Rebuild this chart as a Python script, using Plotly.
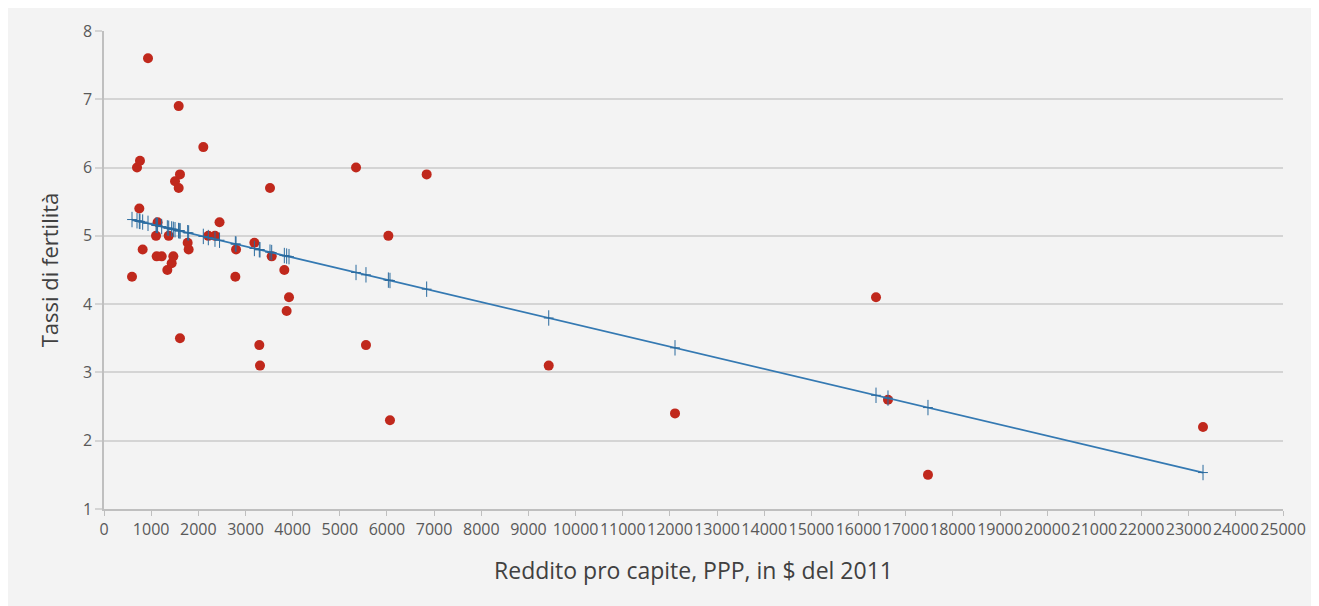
import numpy as np
import plotly.graph_objects as go

# Reddito pro capite (PPP, $ 2011) e tassi di fertilità
reddito = [594, 700, 763, 749, 820, 933, 1103, 1136, 1117, 1223, 1372, 1343, 1435, 1470,
           1506, 1584, 1584, 1611, 1611, 1774, 1795, 2106, 2212, 2353, 2450, 2800, 2785,
           3189, 3293, 3308, 3520, 3556, 3824, 3923, 3873, 5344, 5555, 6030, 6064, 6842,
           9430, 12108, 16370, 16624, 17472, 23304]
fertilita = [4.4, 6.0, 6.1, 5.4, 4.8, 7.6, 5.0, 5.2, 4.7, 4.7, 5.0, 4.5, 4.6, 4.7,
             5.8, 5.7, 6.9, 5.9, 3.5, 4.9, 4.8, 6.3, 5.0, 5.0, 5.2, 4.8, 4.4,
             4.9, 3.4, 3.1, 5.7, 4.7, 4.5, 4.1, 3.9, 6.0, 3.4, 5.0, 2.3, 5.9,
             3.1, 2.4, 4.1, 2.6, 1.5, 2.2]

x_ticks = list(range(0, 25001, 1000))
y_ticks = [1, 2, 3, 4, 5, 6, 7, 8]

# linear trend (least squares), plotted at each data x
slope, intercept = np.polyfit(reddito, fertilita, 1)
order = np.argsort(reddito)
xs = np.array(reddito)[order]
trend = intercept + slope * xs

font_family = "Open Sans, Noto Sans, sans-serif"

fig = go.Figure()
fig.add_trace(go.Scatter(
    x=reddito, y=fertilita, mode="markers",
    marker=dict(color="#C0281C", size=10, line=dict(width=0)),
    showlegend=False, hoverinfo="x+y"))
fig.add_trace(go.Scatter(
    x=xs, y=trend, mode="lines+markers",
    line=dict(color="#3479B2", width=1.8),
    marker=dict(symbol="line-ns", size=11, color="#1F5A8C",
                line=dict(color="#2A6A9E", width=1)),
    showlegend=False, hoverinfo="x+y"))
fig.add_trace(go.Scatter(
    x=xs, y=trend, mode="markers",
    marker=dict(symbol="line-ew", size=7, color="#1F5A8C",
                line=dict(color="#2A6A9E", width=1)),
    showlegend=False, hoverinfo="skip"))

fig.update_layout(
    width=1319, height=598,
    margin=dict(l=96, r=44, t=20, b=97),
    paper_bgcolor="#F3F3F3", plot_bgcolor="#F3F3F3",
    font=dict(family=font_family, color="#595959", size=13),
    xaxis=dict(
        range=[0, 25000], tickmode="array", tickvals=x_ticks,
        ticktext=[str(v) for v in x_ticks], tickangle=0,
        showgrid=False, zeroline=False,
        showline=True, linecolor="#BFBFBF", linewidth=1.5,
        ticks="outside", ticklen=5, tickcolor="#BFBFBF", tickwidth=1,
        tickfont=dict(size=16, color="#595959", family=font_family),
        title=dict(text="Reddito pro capite, PPP, in $ del 2011",
                   font=dict(size=23, color="#404040", family=font_family),
                   standoff=24)),
    yaxis=dict(
        range=[1, 8], tickmode="array", tickvals=y_ticks,
        showgrid=True, gridcolor="#D4D4D4", gridwidth=1.5, zeroline=False,
        showline=True, linecolor="#BFBFBF", linewidth=1.5,
        ticks="outside", ticklen=7, tickcolor="#D4D4D4", tickwidth=1.5,
        tickfont=dict(size=16, color="#595959", family=font_family),
        title=dict(text="Tassi di fertilità",
                   font=dict(size=22, color="#404040", family=font_family),
                   standoff=18)),
)

fig.write_html("out.html")
